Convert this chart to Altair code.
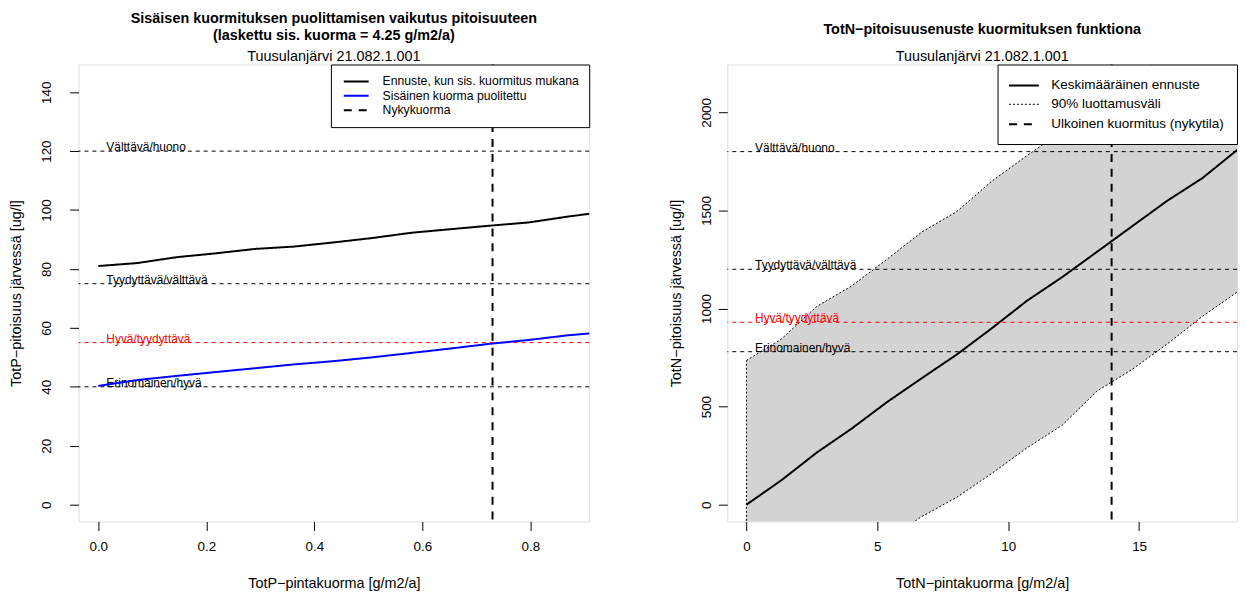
import altair as alt
import pandas as pd

FONT = "Liberation Sans"

# ---------------- Left panel: TotP ----------------
tp_load = [0.0, 0.072, 0.145, 0.217, 0.29, 0.362, 0.435, 0.507, 0.58, 0.652, 0.725, 0.797, 0.87, 0.942]
tp_forecast = [81.0, 82.0, 84.0, 85.3, 86.8, 87.6, 89.0, 90.5, 92.3, 93.5, 94.7, 95.8, 97.8, 99.5]
tp_halved = [40.3, 42.3, 43.7, 45.0, 46.3, 47.6, 48.7, 50.0, 51.5, 53.0, 54.6, 55.9, 57.5, 58.6]
tp_current = [0.73]
tp_series = ["Ennuste, kun sis. kuormitus mukana", "Sisäinen kuorma puolitettu", "Nykykuorma"]
tp_thr_values = [120, 75, 55, 40]
tp_thr_labels = ["Välttävä/huono", "Tyydyttävä/välttävä", "Hyvä/tyydyttävä", "Erinomainen/hyvä"]
tp_thr_colors = ["black", "black", "red", "black"]
tp_xticks = [0.0, 0.2, 0.4, 0.6, 0.8]
tp_yticks = [0, 20, 40, 60, 80, 100, 120, 140]

# ---------------- Right panel: TotN ----------------
tn_load = [0.0, 1.34, 2.68, 4.02, 5.36, 6.7, 8.04, 9.38, 10.72, 12.06, 13.4, 14.74, 16.08, 17.42, 18.76]
tn_mean = [0, 125, 265, 388, 522, 645, 766, 900, 1040, 1160, 1290, 1420, 1550, 1665, 1810]
tn_upper = [735, 845, 1010, 1115, 1250, 1390, 1495, 1650, 1780, 1905, 2040, 2170, 2300, 2430, 2560]
tn_lower = [-690, -560, -430, -300, -180, -60, 38, 160, 290, 405, 580, 690, 820, 960, 1085]
tn_current = [13.95]
tn_series = ["Keskimääräinen ennuste", "90% luottamusväli", "Ulkoinen kuormitus (nykytila)"]
tn_thr_values = [1800, 1200, 930, 780]
tn_thr_labels = ["Välttävä/huono", "Tyydyttävä/välttävä", "Hyvä/tyydyttävä", "Erinomainen/hyvä"]
tn_thr_colors = ["black", "black", "red", "black"]
tn_xticks = [0, 5, 10, 15]
tn_yticks = [0, 500, 1000, 1500, 2000]

subtitle = "Tuusulanjärvi 21.082.1.001"

PW, PH = 514, 460


def x_axis(title, values, fmt):
    return alt.Axis(values=values, format=fmt, title=title, domain=False, grid=False,
                    ticks=True, tickSize=9, tickColor="black", tickWidth=1,
                    labelFont=FONT, labelFontSize=13.5, labelColor="black", labelPadding=9,
                    labelFlush=False, labelOverlap=False,
                    titleFont=FONT, titleFontSize=14.5, titleFontWeight="normal", titleColor="black",
                    titleY=62, titleBaseline="middle")


def y_axis(title, values, fmt, lpad, tx):
    return alt.Axis(values=values, format=fmt, title=title, domain=False, grid=False,
                    ticks=True, tickSize=9, tickColor="black", tickWidth=1,
                    labelFont=FONT, labelFontSize=13.5, labelColor="black", labelPadding=lpad,
                    labelAngle=-90, labelAlign="center", labelBaseline="alphabetic",
                    labelFlush=False, labelOverlap=False,
                    titleFont=FONT, titleFontSize=14.5, titleFontWeight="normal", titleColor="black",
                    titleX=tx, titleY=PH / 2, titleAngle=270, titleBaseline="middle", titleAlign="center")


# ---------- left chart ----------
n = len(tp_load)
l_lines = pd.DataFrame({"load": tp_load * 2, "value": tp_forecast + tp_halved,
                        "series": [tp_series[0]] * n + [tp_series[1]] * n})
l_cur = pd.DataFrame({"load": tp_current, "series": [tp_series[2]]})

lxs = alt.Scale(domain=[-0.0365, 0.909], nice=False, zero=False)
lys = alt.Scale(domain=[-5.74, 149.4], nice=False, zero=False)
lx = alt.X("load:Q", scale=lxs, axis=x_axis("TotP−pintakuorma [g/m2/a]", tp_xticks, ".1f"))
ly = alt.Y("value:Q", scale=lys, axis=y_axis("TotP−pitoisuus järvessä [ug/l]", tp_yticks, "d", 19, -62))

l_legend = alt.Legend(title=None, orient="top-right", offset=0, fillColor="white", strokeColor="black",
                      padding=10, rowPadding=0.5, labelFont=FONT, labelFontSize=12.3, labelColor="black",
                      labelOffset=28, symbolSize=144, symbolType="M-0.667,0H3.5", symbolStrokeWidth=2,
                      labelLimit=400)
l_color = alt.Color("series:N", scale=alt.Scale(domain=tp_series, range=["black", "blue", "black"]), legend=l_legend)
l_dash = alt.StrokeDash("series:N", scale=alt.Scale(domain=tp_series, range=[[1, 0], [1, 0], [8, 7]]), legend=l_legend)

left_layers = []
for v, lab, col in zip(tp_thr_values, tp_thr_labels, tp_thr_colors):
    d = pd.DataFrame({"value": [v], "label": [lab], "load": [0.015]})
    left_layers.append(alt.Chart(d).mark_rule(strokeDash=[4, 4], strokeWidth=1, color=col).encode(y=ly))
    left_layers.append(alt.Chart(d).mark_text(align="left", baseline="alphabetic", font=FONT, fontSize=12,
                                              color=col).encode(x=lx, y=ly, text="label:N"))
left_layers.append(alt.Chart(l_lines).mark_line(strokeWidth=2, clip=True).encode(
    x=lx, y=ly, color=l_color, strokeDash=l_dash))
left_layers.append(alt.Chart(l_cur).mark_rule(strokeWidth=2).encode(x=lx, color=l_color, strokeDash=l_dash))

left = alt.layer(*left_layers).properties(
    width=PW, height=PH,
    title=alt.TitleParams(text=["Sisäisen kuormituksen puolittamisen vaikutus pitoisuuteen",
                                "(laskettu sis. kuorma = 4.25 g/m2/a)"],
                          subtitle=subtitle, font=FONT, fontSize=14.5, fontWeight="bold", color="black",
                          lineHeight=17, subtitleFont=FONT, subtitleFontSize=14.5, subtitleColor="black",
                          subtitlePadding=7, anchor="middle", offset=-1))

# ---------- right chart ----------
m = len(tn_load)
r_mean = pd.DataFrame({"load": tn_load, "value": tn_mean, "series": [tn_series[0]] * m})
r_band = pd.DataFrame({"load": tn_load, "value": tn_lower, "upper": tn_upper})
r_bounds = pd.DataFrame({"load": tn_load * 2, "value": tn_lower + tn_upper,
                         "bound": ["lower"] * m + ["upper"] * m, "series": [tn_series[1]] * (2 * m)})
r_edge = pd.DataFrame({"load": [tn_load[0]], "value": [tn_lower[0]], "value2": [tn_upper[0]],
                       "series": [tn_series[1]]})
r_cur = pd.DataFrame({"load": tn_current, "series": [tn_series[2]]})

rxs = alt.Scale(domain=[-0.73, 18.74], nice=False, zero=False)
rys = alt.Scale(domain=[-86, 2244], nice=False, zero=False)
rx = alt.X("load:Q", scale=rxs, axis=x_axis("TotN−pintakuorma [g/m2/a]", tn_xticks, "d"))
ry = alt.Y("value:Q", scale=rys, axis=y_axis("TotN−pitoisuus järvessä [ug/l]", tn_yticks, "d", 8, -51))

r_legend = alt.Legend(title=None, orient="top-right", offset=0, fillColor="white", strokeColor="black",
                      padding=13, rowPadding=4.5, labelFont=FONT, labelFontSize=13.6, labelColor="black",
                      labelOffset=25, symbolSize=196, symbolType="M-1.357,0H2.93", labelLimit=400)
r_color = alt.Color("series:N", scale=alt.Scale(domain=tn_series, range=["black", "black", "black"]), legend=r_legend)
r_dash = alt.StrokeDash("series:N", scale=alt.Scale(domain=tn_series, range=[[1, 0], [2, 2], [8, 7]]), legend=r_legend)
r_width = alt.StrokeWidth("series:N", scale=alt.Scale(type="ordinal", domain=tn_series, range=[2, 1, 2]), legend=r_legend)

right_layers = [
    alt.Chart(r_band).mark_area(color="#D3D3D3", clip=True).encode(x=rx, y=ry, y2="upper:Q"),
    alt.Chart(r_bounds).mark_line(clip=True).encode(
        x=rx, y=ry, detail="bound:N", color=r_color, strokeDash=r_dash, strokeWidth=r_width),
    alt.Chart(r_edge).mark_rule(clip=True).encode(
        x=rx, y=ry, y2="value2:Q", color=r_color, strokeDash=r_dash, strokeWidth=r_width),
]
for v, lab, col in zip(tn_thr_values, tn_thr_labels, tn_thr_colors):
    d = pd.DataFrame({"value": [v], "label": [lab], "load": [0.33]})
    right_layers.append(alt.Chart(d).mark_rule(strokeDash=[4, 4], strokeWidth=1, color=col).encode(y=ry))
    right_layers.append(alt.Chart(d).mark_text(align="left", baseline="alphabetic", font=FONT, fontSize=12,
                                               color=col).encode(x=rx, y=ry, text="label:N"))
right_layers.append(alt.Chart(r_mean).mark_line(clip=True).encode(
    x=rx, y=ry, color=r_color, strokeDash=r_dash, strokeWidth=r_width))
right_layers.append(alt.Chart(r_cur).mark_rule().encode(
    x=rx, color=r_color, strokeDash=r_dash, strokeWidth=r_width))

right = alt.layer(*right_layers).properties(
    width=PW - 1, height=PH,
    title=alt.TitleParams(text="TotN−pitoisuusenuste kuormituksen funktiona",
                          subtitle=subtitle, font=FONT, fontSize=14.5, fontWeight="bold", color="black",
                          subtitleFont=FONT, subtitleFontSize=14.5, subtitleColor="black",
                          subtitlePadding=13, anchor="middle", offset=-1))

chart = alt.hconcat(left, right, spacing=139, bounds="flush").resolve_scale(
    x="independent", y="independent", color="independent", strokeDash="independent",
    strokeWidth="independent"
).resolve_legend(
    color="independent", strokeDash="independent", strokeWidth="independent"
).properties(
    padding={"left": 0, "top": 0, "right": 0, "bottom": 0}
).configure_view(stroke="black", strokeWidth=1).configure(background="white")

chart.save("out.html", embed_options={"renderer": "svg", "actions": False})
